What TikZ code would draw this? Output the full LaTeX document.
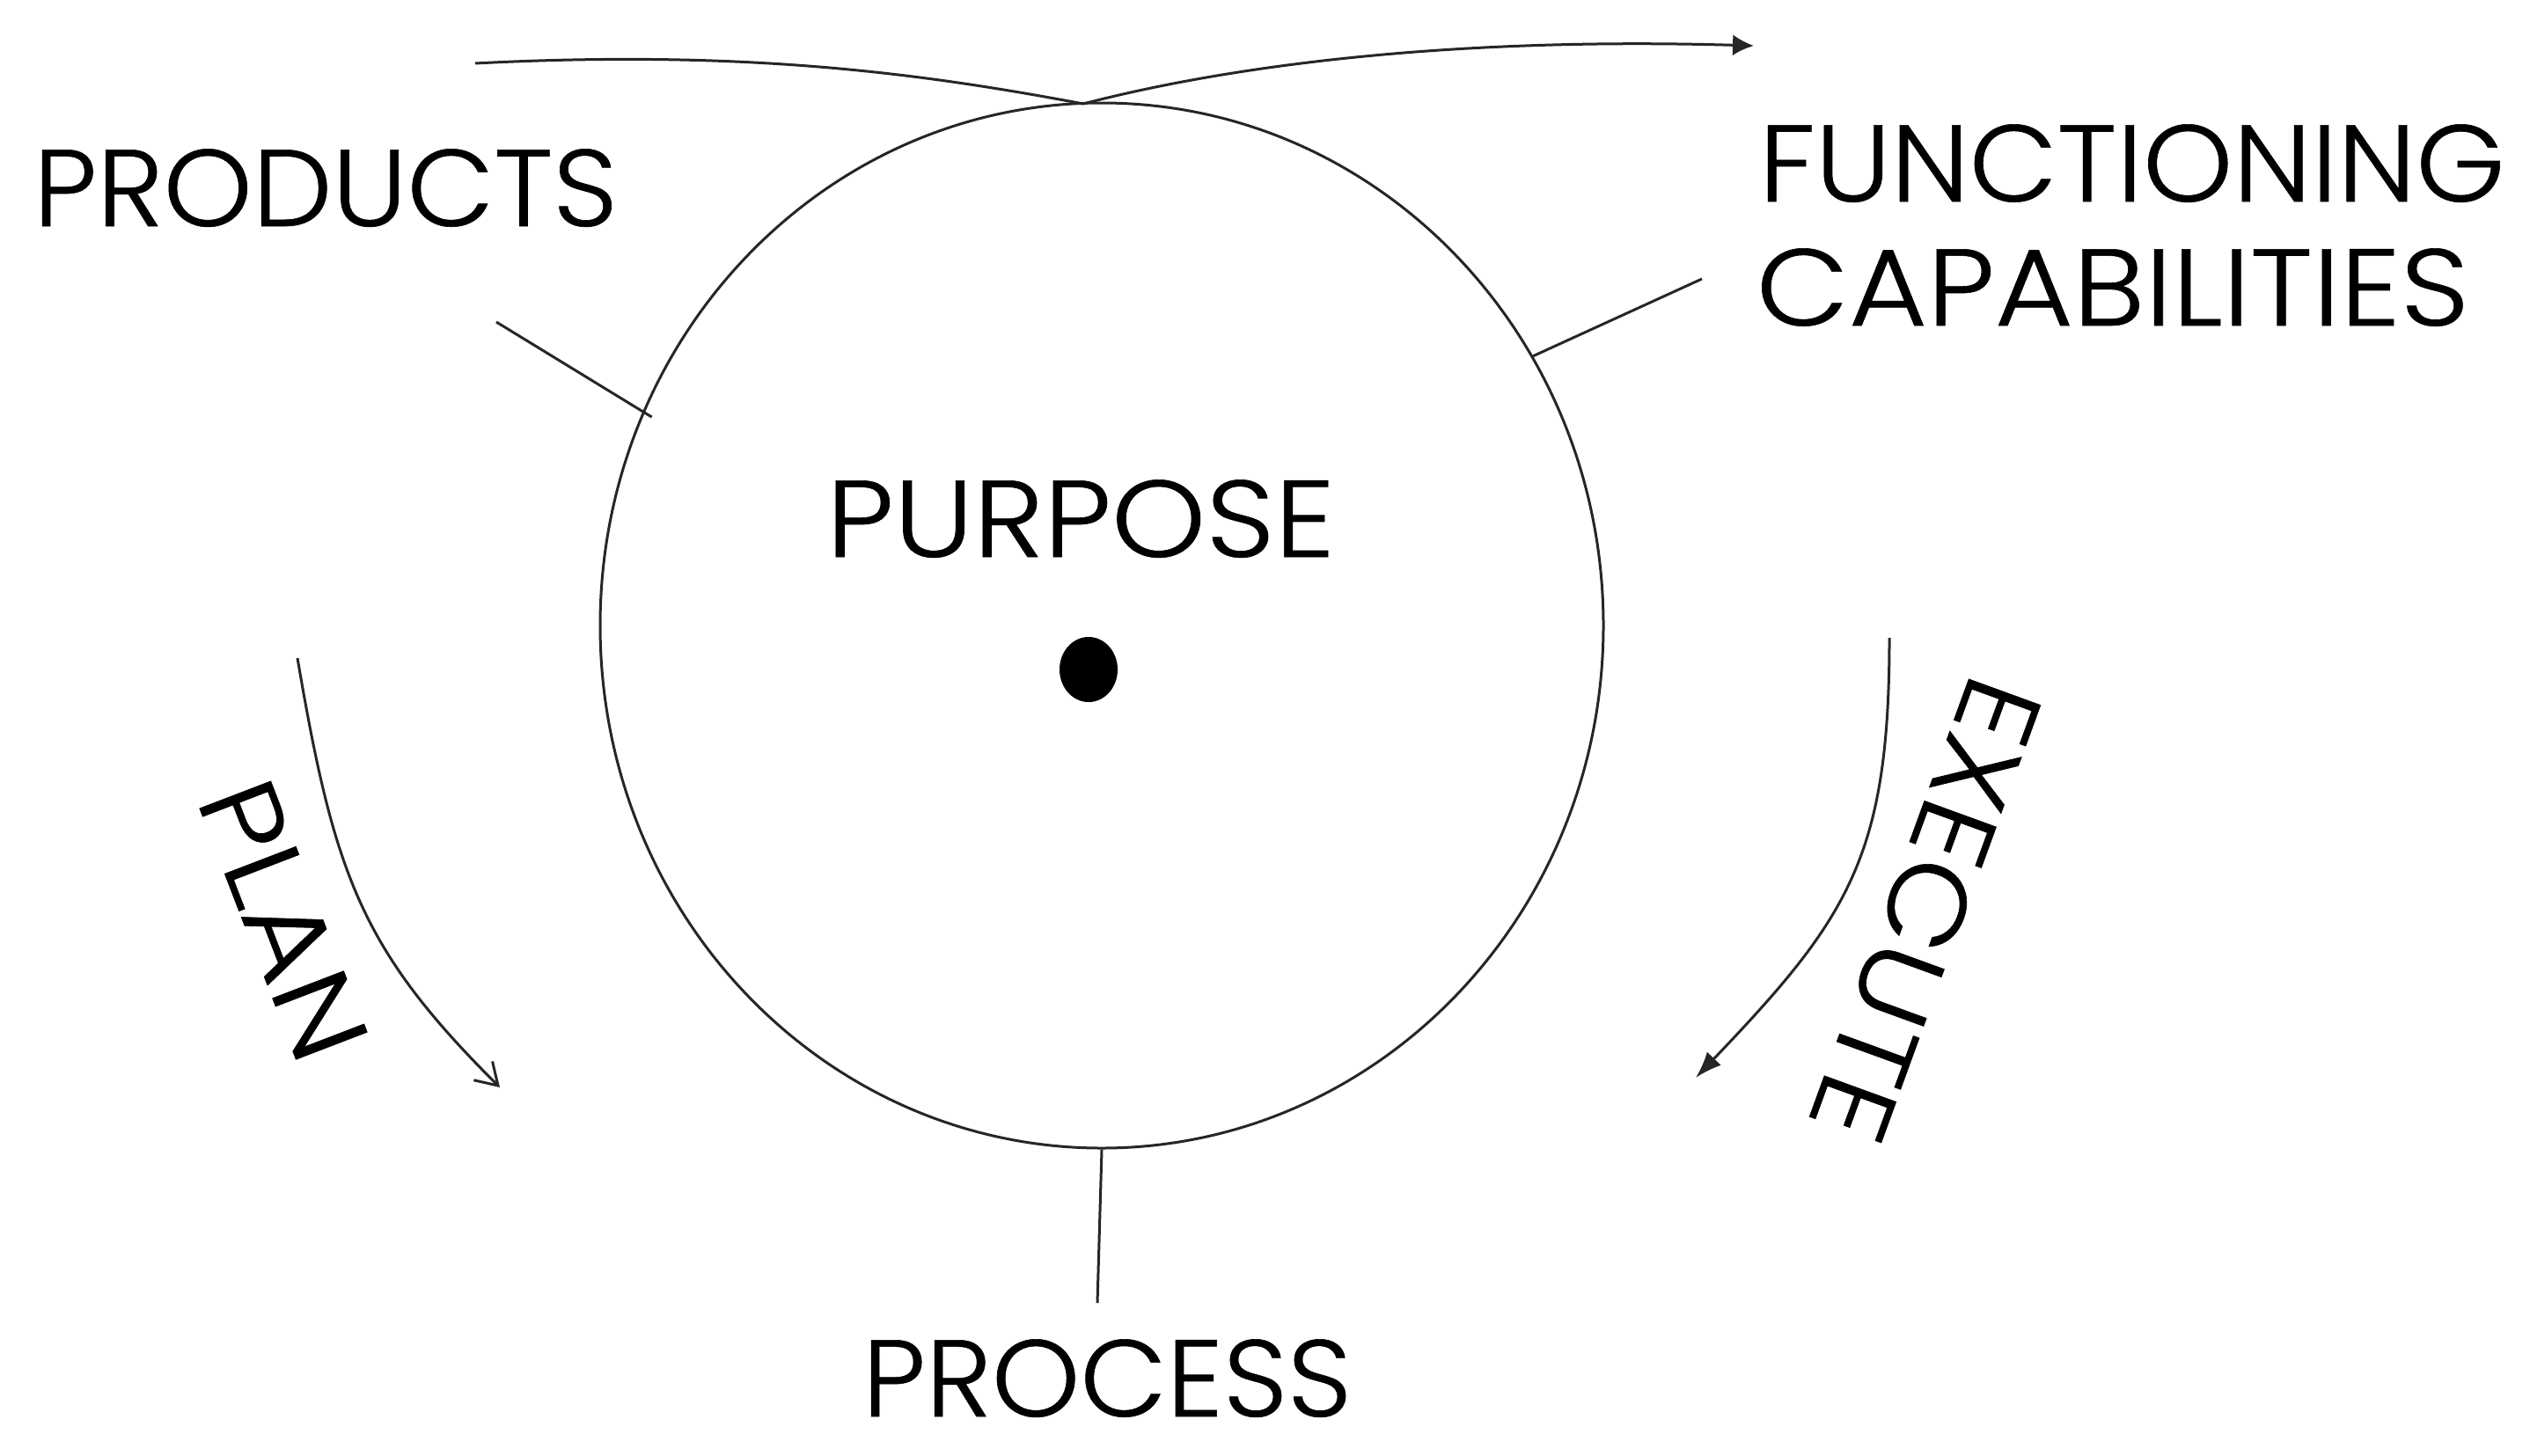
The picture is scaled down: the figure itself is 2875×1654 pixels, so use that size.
\documentclass[tikz,border=0pt]{standalone}
\usepackage{fontspec}
\usepackage{graphicx}
\IfFontExistsTF{Poppins Light}{\setmainfont{Poppins Light}[FakeBold=0.5]}{\setmainfont{Poppins}}
\usetikzlibrary{shapes.geometric,arrows.meta}
\newcommand{\wtext}[2]{\resizebox{#1}{\height}{#2}}
\begin{document}
\begin{tikzpicture}[x=0.25pt,y=0.25pt,
  lbl/.style={font=\fontsize{31}{35}\selectfont, inner sep=0pt, text=black},
  conn/.style={draw=black!85, line width=0.75pt},
  ring/.style={ellipse, draw=black!85, line width=0.75pt, inner sep=0pt,
               minimum width=285pt, minimum height=297pt},
  blob/.style={ellipse, fill=black, inner sep=0pt,
               minimum width=16.5pt, minimum height=18.5pt}]
\path[use as bounding box] (0,0) rectangle (2875,1654);

% circle and centre dot
\node[ring] (circ) at (1252,943) {};
\node[blob] (dot) at (1237,893) {};

% labels
\node[lbl, anchor=base west] (products) at (37,1397) {\wtext{166pt}{PRODUCTS}};
\node[lbl, anchor=base west] (func) at (1998,1425) {\wtext{212pt}{FUNCTIONING}};
\node[lbl, anchor=base west] (capab) at (1995,1284) {\wtext{202.5pt}{CAPABILITIES}};
\node[lbl, anchor=base] (purpose) at (1228,1021) {\wtext{144.5pt}{PURPOSE}};
\node[lbl, anchor=base] (process) at (1258,44) {\wtext{139pt}{PROCESS}};
\node[lbl, rotate=-69] (plan) at (322,608) {\wtext{82pt}{PLAN}};
\node[lbl, rotate=-110] (execute) at (2188,620) {\wtext{137pt}{EXECUTE}};

% connector ends
\coordinate (prodA) at (564,1288);
\coordinate (fcA) at (1934,1337);
\coordinate (procA) at (1247,173);

\draw[conn, shorten >=-3pt] (prodA) -- (circ.155);
\draw[conn] (fcA) -- (circ.32);
\draw[conn] (circ.south) -- (procA);

% top arrow
\coordinate (topS) at (540,1582);
\coordinate (topX) at (1231,1536);
\coordinate (topE) at (1993,1602);
\draw[conn, -{Latex[length=6pt,width=6pt]}]
  (topS) .. controls (850,1598) and (1050,1570) .. (topX)
         .. controls (1400,1580) and (1650,1612) .. (topE);

% PLAN arrow
\coordinate (planS) at (338,906);
\coordinate (planE) at (568,418);
\draw[conn, -{Straight Barb[length=6pt,width=7.5pt]}]
  (planS) .. controls (380,660) and (410,575) .. (planE);

% EXECUTE arrow
\coordinate (exS) at (2147,929);
\coordinate (exE) at (1927,429);
\draw[conn, -{Latex[length=7.5pt,width=5.5pt]}]
  (exS) .. controls (2147,680) and (2100,610) .. (exE);
\end{tikzpicture}
\end{document}
